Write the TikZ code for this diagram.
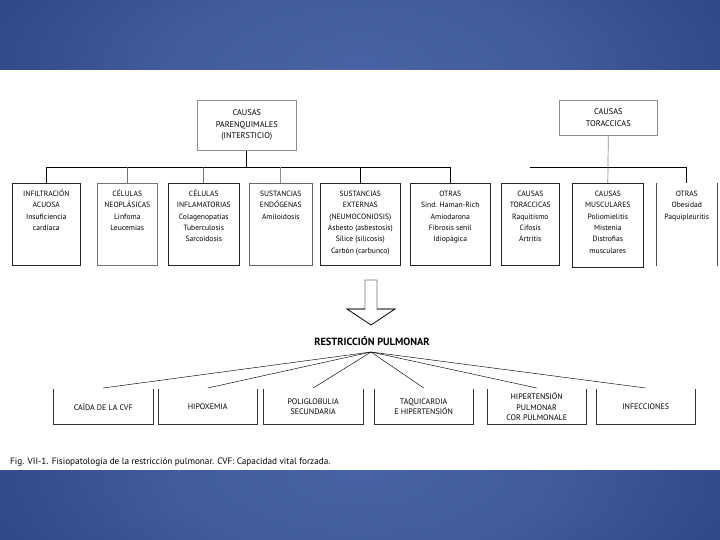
\documentclass[tikz,border=0pt]{standalone}
\usepackage{fontspec}
\setmainfont{PT Sans}
\pgfdeclareradialshading{bandshade}{\pgfpoint{0bp}{0bp}}{rgb(0bp)=(0.28,0.39,0.65); rgb(12bp)=(0.25,0.36,0.60); rgb(50bp)=(0.05,0.13,0.37)}
\tikzset{
  boxframe/.style={draw=black!85, line width=0.6pt, minimum height=82pt, inner sep=0pt, anchor=north west},
  boxtext/.style={anchor=north, align=center, inner sep=0pt, font=\fontsize{7.6}{11.4}\selectfont},
  headbox/.style={draw=black!45, line width=0.6pt, align=center, inner sep=0pt, anchor=north west, font=\fontsize{8.3}{11.5}\selectfont},
  effbox/.style={minimum height=35pt, inner sep=0pt, align=center, anchor=north west, font=\fontsize{8}{10.2}\selectfont},
  ushape/.style={draw=black!80, line width=0.6pt},
  tree/.style={line width=0.7pt, draw=black},
  fanline/.style={line width=0.45pt, draw=black},
}
\begin{document}
\begin{tikzpicture}[x=1pt,y=-1pt]
\useasboundingbox (0,0) rectangle (720,540);
\fill[white] (0,0) rectangle (720,540);
% blue bands
\begin{scope}
  \clip (0,0) rectangle (720,70);
  \shade[shading=bandshade] (-40,-110) rectangle (760,250);
\end{scope}
\begin{scope}
  \clip (0,470) rectangle (720,540);
  \shade[shading=bandshade] (-40,290) rectangle (760,650);
\end{scope}

% header boxes
\node[headbox, minimum width=99pt, minimum height=50pt] (parq) at (197,100) {CAUSAS\\PARENQUIMALES\\(INTERSTICIO)};
\node[headbox, minimum width=98pt, minimum height=35pt] (tor) at (559,100) {CAUSAS\\TORACCICAS};

% bus coordinate
\coordinate (bus) at (0,167);

% top-row boxes
\node[boxframe, minimum width=68pt] (b1) at (12,183) {};
\node[boxframe, minimum width=60pt, draw=black!55] (b2) at (97,183) {};
\node[boxframe, minimum width=71pt] (b3) at (168,183) {};
\node[boxframe, minimum width=63pt, draw=black!60] (b4) at (249,183) {};
\node[boxframe, minimum width=80pt] (b5) at (320,183) {};
\node[boxframe, minimum width=80pt] (b6) at (410,183) {};
\node[boxframe, minimum width=58pt] (b7) at (501,183) {};
\node[boxframe, minimum width=71pt, minimum height=84pt] (b8) at (572,183) {};
\node[boxframe, minimum width=61pt, draw=none] (b9) at (656,183) {};
\draw[line width=0.6pt, black!70] (b9.north west) -- (b9.south west);
\draw[line width=0.6pt, black!70] (b9.north east) -- (b9.south east);

% texts
\node[boxtext] (t1) at ([yshift=-5.5pt]b1.north) {\rule{0pt}{7.6pt}INFILTRACIÓN\\ACUOSA\\Insuficiencia\\cardíaca};
\node[boxtext] (t2) at ([yshift=-5.5pt]b2.north) {\rule{0pt}{7.6pt}CÉLULAS\\NEOPLÁSICAS\\Linfoma\\Leucemias};
\node[boxtext] (t3) at ([yshift=-5.5pt]b3.north) {\rule{0pt}{7.6pt}CÉLULAS\\INFLAMATORIAS\\Colagenopatías\\Tuberculosis\\Sarcoidosis};
\node[boxtext] (t4) at ([yshift=-5.5pt]b4.north) {\rule{0pt}{7.6pt}SUSTANCIAS\\ENDÓGENAS\\Amiloidosis};
\node[boxtext] (t5) at ([yshift=-5.5pt]b5.north) {\rule{0pt}{7.6pt}SUSTANCIAS\\EXTERNAS\\(NEUMOCONIOSIS)\\Asbesto (asbestosis)\\Sílice (silicosis)\\Carbón (carbunco)};
\node[boxtext] (t6) at ([yshift=-5.5pt]b6.north) {\rule{0pt}{7.6pt}OTRAS\\Sind. Haman-Rich\\Amiodarona\\Fibrosis senil\\Idiopágica};
\node[boxtext] (t7) at ([yshift=-5.5pt]b7.north) {\rule{0pt}{7.6pt}CAUSAS\\TORACCICAS\\Raquitismo\\Cifosis\\Artritis};
\node[boxtext] (t8) at ([yshift=-5.5pt]b8.north) {\rule{0pt}{7.6pt}CAUSAS\\MUSCULARES\\Poliomielitis\\Mistenia\\Distrofias\\musculares};
\node[boxtext] (t9) at ([yshift=-5.5pt]b9.north) {\rule{0pt}{7.6pt}OTRAS\\Obesidad\\Paquipleuritis};

% left tree
\draw[tree] (parq.south) -- (parq.south |- bus);
\draw[tree] (b1.north) -- (b1.north |- bus) -- (b6.north |- bus) -- (b6.north);
\draw[tree, black!55] (b2.north) -- (b2.north |- bus);
\draw[tree, black!55, line width=1.1pt] (b3.north) -- (b3.north |- bus);
\draw[tree, black!45] (b4.north) -- (b4.north |- bus);
\draw[tree] (b5.north) -- (b5.north |- bus);
% right tree
\draw[tree] (b7.north |- bus) -- (b9.north |- bus) -- (b9.north);
\draw[tree, black!45] (tor.south) -- (b8.north);

% big hollow arrow
\draw[line width=0.6pt, black!55, fill=white] (365,280) -- (365,309) -- (347,309) -- (371,325) -- (395,309) -- (377,309) -- (377,280) -- cycle;
\draw[line width=0.6pt, black] (365,309) -- (347,309) -- (371,325) -- (395,309) -- (377,309);

% restriction label
\node[inner sep=0pt, font=\bfseries\fontsize{10.4}{12}\selectfont] (rp) at (372,341) {RESTRICCIÓN PULMONAR};
\coordinate (fan) at (371,352);

% effect boxes
\node[effbox, minimum width=100pt] (c1) at (53,389) {CAÍDA DE LA CVF};
\node[effbox, minimum width=99pt] (c2) at (158,389) {HIPOXEMIA};
\node[effbox, minimum width=100pt] (c3) at (263,389) {POLIGLOBULIA\\SECUNDARIA};
\node[effbox, minimum width=99pt] (c4) at (374,389) {TAQUICARDIA\\E HIPERTENSIÓN};
\node[effbox, minimum width=99pt] (c5) at (487,389) {HIPERTENSIÓN\\PULMONAR\\COR PULMONALE};
\node[effbox, minimum width=99pt] (c6) at (596,389) {INFECCIONES};
\foreach \c in {c1,c2,c3,c4,c5,c6}{
  \draw[ushape] (\c.north west) -- (\c.south west) -- (\c.south east) -- (\c.north east);
  \draw[fanline] (fan) -- ([yshift=1pt]\c.north);
}

% caption
\node[anchor=west, inner sep=0pt, font=\fontsize{9.2}{10}\selectfont] (cap) at (10,462) {Fig. VII-1. Fisiopatología de la restricción pulmonar. CVF: Capacidad vital forzada.};
\end{tikzpicture}
\end{document}
